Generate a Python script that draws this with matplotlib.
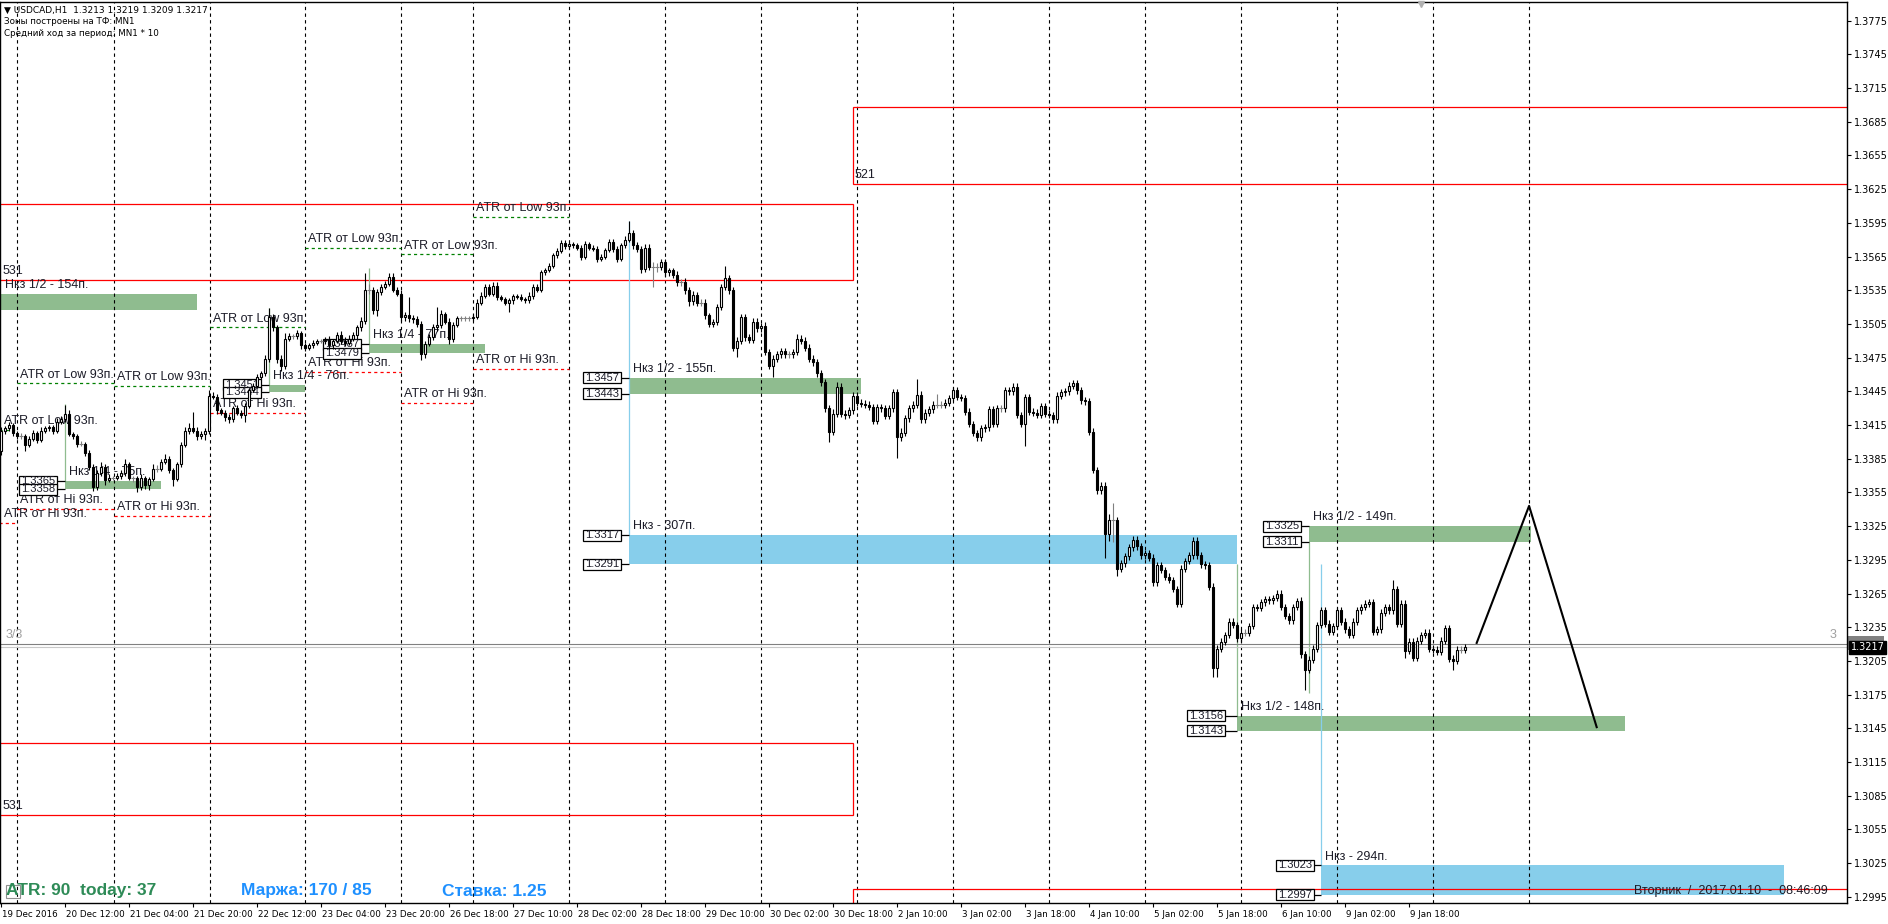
import numpy as np
import matplotlib
matplotlib.use("Agg")
import matplotlib.pyplot as plt
import matplotlib.transforms as mtransforms
from matplotlib.patches import Rectangle

# ---------------- data (prices in pips above 1.0000) ----------------
TICK_LABELS = ["19 Dec 2016", "20 Dec 12:00", "21 Dec 04:00", "21 Dec 20:00", "22 Dec 12:00",
               "23 Dec 04:00", "23 Dec 20:00", "26 Dec 18:00", "27 Dec 10:00", "28 Dec 02:00",
               "28 Dec 18:00", "29 Dec 10:00", "30 Dec 02:00", "30 Dec 18:00", "2 Jan 10:00",
               "3 Jan 02:00", "3 Jan 18:00", "4 Jan 10:00", "5 Jan 02:00", "5 Jan 18:00",
               "6 Jan 10:00", "9 Jan 02:00", "9 Jan 18:00"]
SEPARATORS = [4.08, 28.2, 52.2, 76.1, 100.1, 118.1, 142.1, 166.1, 190.1, 214.1, 238.1,
              262.1, 286.1, 310.1, 334.1, 358.1, 382.1]
PRICE_TICKS = list(range(2995, 3776, 30))

FIRST_OPEN = 3392
CLOSE = [
    3410, 3412, 3415, 3408, 3405, 3405, 3397, 3403, 3408, 3402, 3410, 3412, 3413, 3410, 3418, 3420, 3425, 3407, 3405, 3398, 3398, 3390, 3378, 3360,
    3372, 3378, 3366, 3368, 3368, 3370, 3372, 3380, 3368, 3368, 3360, 3368, 3362, 3367, 3376, 3376, 3382, 3385, 3375, 3367, 3380, 3397, 3410, 3412,
    3410, 3405, 3407, 3410, 3441, 3440, 3428, 3426, 3422, 3420, 3430, 3426, 3424, 3432, 3446, 3450, 3458, 3461, 3474, 3511, 3502, 3474, 3468, 3492,
    3494, 3494, 3497, 3486, 3484, 3486, 3488, 3490, 3490, 3491, 3486, 3490, 3495, 3490, 3488, 3492, 3495, 3502, 3508, 3535, 3535, 3517, 3533, 3538,
    3541, 3547, 3535, 3532, 3511, 3513, 3510, 3509, 3505, 3478, 3487, 3493, 3502, 3504, 3514, 3507, 3492, 3504, 3510, 3510, 3510, 3510, 3511, 3524,
    3530, 3538, 3532, 3539, 3529, 3527, 3524, 3526, 3530, 3529, 3527, 3526, 3530, 3538, 3535, 3551, 3553, 3557, 3566, 3570, 3577, 3574, 3576, 3575,
    3573, 3565, 3576, 3573, 3572, 3563, 3565, 3571, 3578, 3572, 3563, 3575, 3580, 3586, 3575, 3572, 3554, 3573, 3556, 3556, 3556, 3560, 3551, 3553,
    3549, 3542, 3542, 3535, 3525, 3531, 3524, 3524, 3513, 3505, 3507, 3520, 3538, 3546, 3535, 3484, 3490, 3511, 3493, 3491, 3507, 3501, 3503, 3480,
    3468, 3474, 3478, 3481, 3478, 3478, 3480, 3492, 3490, 3484, 3474, 3471, 3461, 3453, 3430, 3409, 3425, 3449, 3425, 3424, 3428, 3441, 3435, 3434,
    3433, 3431, 3419, 3431, 3430, 3423, 3430, 3444, 3404, 3408, 3421, 3430, 3433, 3442, 3420, 3426, 3429, 3433, 3433, 3433, 3435, 3439, 3446, 3440,
    3439, 3427, 3416, 3408, 3404, 3412, 3413, 3429, 3416, 3430, 3430, 3446, 3445, 3449, 3424, 3416, 3440, 3427, 3426, 3424, 3432, 3425, 3424, 3420,
    3441, 3444, 3445, 3450, 3452, 3446, 3437, 3436, 3409, 3375, 3357, 3361, 3318, 3330, 3330, 3287, 3292, 3298, 3306, 3313, 3307, 3299, 3301, 3297,
    3275, 3290, 3286, 3280, 3277, 3269, 3256, 3287, 3294, 3299, 3312, 3299, 3291, 3290, 3271, 3199, 3216, 3222, 3228, 3240, 3237, 3225, 3230, 3230,
    3236, 3253, 3252, 3257, 3260, 3259, 3261, 3265, 3253, 3245, 3241, 3253, 3258, 3211, 3197, 3206, 3216, 3237, 3250, 3238, 3231, 3236, 3250, 3240,
    3233, 3228, 3240, 3250, 3253, 3256, 3257, 3231, 3233, 3248, 3253, 3250, 3269, 3238, 3256, 3214, 3222, 3208, 3223, 3228, 3230, 3216, 3215, 3213,
    3223, 3234, 3207, 3205, 3215, 3215, 3217,
]
WICK_UP = [
    3, 2, 3, 2, 2, 3, 2, 2, 3, 2, 3, 2, 2, 2, 3, 3, 8, 3, 2, 2, 3, 2, 3, 2,
    3, 4, 2, 3, 2, 2, 3, 5, 2, 2, 2, 3, 2, 2, 4, 3, 3, 4, 2, 2, 2, 3, 3, 5,
    15, 3, 3, 2, 5, 3, 3, 2, 2, 3, 2, 3, 2, 3, 2, 2, 2, 2, 3, 8, 3, 2, 3, 5,
    3, 2, 3, 2, 2, 2, 3, 2, 2, 2, 3, 2, 3, 4, 3, 3, 3, 2, 3, 15, 6, 3, 3, 3,
    2, 3, 3, 3, 3, 3, 16, 3, 3, 3, 3, 3, 3, 16, 3, 2, 3, 3, 2, 2, 2, 2, 3, 3,
    3, 3, 3, 3, 3, 2, 2, 2, 2, 2, 3, 2, 3, 3, 3, 2, 2, 2, 2, 3, 3, 3, 2, 2,
    2, 2, 3, 2, 2, 2, 2, 2, 3, 3, 2, 2, 3, 11, 3, 3, 2, 3, 3, 4, 3, 3, 3, 2,
    2, 3, 3, 4, 3, 3, 2, 3, 3, 2, 2, 3, 3, 11, 3, 3, 3, 3, 3, 3, 3, 3, 3, 4,
    3, 3, 3, 3, 3, 3, 3, 4, 3, 3, 3, 3, 3, 3, 3, 3, 4, 4, 3, 3, 3, 3, 3, 3,
    3, 3, 3, 3, 3, 3, 3, 3, 3, 4, 3, 3, 3, 14, 3, 3, 3, 3, 10, 3, 3, 3, 3, 3,
    3, 3, 3, 3, 3, 3, 3, 3, 3, 3, 3, 3, 3, 3, 3, 3, 3, 3, 3, 3, 3, 3, 3, 3,
    3, 3, 3, 3, 3, 3, 3, 3, 3, 3, 3, 3, 3, 6, 16, 3, 3, 3, 3, 3, 3, 3, 3, 3,
    3, 3, 3, 3, 3, 3, 3, 3, 3, 3, 3, 3, 3, 3, 3, 3, 3, 3, 3, 3, 3, 3, 3, 3,
    3, 3, 3, 3, 3, 3, 3, 3, 3, 3, 3, 3, 3, 4, 3, 3, 3, 3, 3, 3, 3, 3, 3, 3,
    3, 3, 3, 3, 3, 3, 3, 3, 3, 3, 3, 3, 8, 3, 3, 3, 3, 3, 3, 3, 3, 3, 3, 3,
    3, 3, 3, 3, 3, 3, 3,
]
WICK_DN = [
    4, 3, 2, 3, 2, 2, 5, 2, 2, 3, 2, 2, 2, 3, 2, 2, 2, 2, 2, 3, 2, 3, 3, 4,
    3, 2, 4, 2, 2, 2, 3, 2, 2, 4, 5, 3, 4, 5, 2, 3, 2, 2, 3, 6, 2, 2, 2, 3,
    2, 3, 2, 5, 3, 2, 3, 2, 3, 3, 2, 2, 3, 6, 2, 2, 2, 2, 2, 3, 3, 4, 5, 3,
    2, 2, 2, 3, 3, 2, 2, 2, 2, 3, 3, 3, 2, 3, 3, 2, 2, 3, 3, 3, 3, 3, 5, 2,
    2, 2, 2, 2, 3, 3, 3, 3, 3, 5, 3, 2, 2, 3, 3, 2, 5, 3, 2, 2, 2, 2, 2, 2,
    2, 2, 2, 2, 3, 2, 2, 8, 3, 2, 2, 2, 2, 3, 2, 2, 2, 2, 2, 2, 2, 2, 2, 2,
    2, 3, 2, 2, 2, 3, 2, 2, 2, 3, 3, 2, 2, 2, 3, 3, 4, 3, 3, 18, 5, 3, 4, 3,
    3, 3, 3, 3, 4, 3, 3, 3, 4, 3, 3, 3, 3, 3, 3, 3, 8, 3, 3, 3, 3, 3, 3, 3,
    3, 10, 3, 3, 3, 3, 3, 3, 3, 3, 3, 3, 3, 3, 3, 9, 3, 3, 3, 4, 3, 3, 3, 3,
    3, 3, 3, 3, 3, 3, 3, 3, 18, 3, 3, 3, 3, 3, 3, 3, 3, 3, 3, 3, 3, 3, 3, 3,
    3, 3, 3, 3, 3, 3, 3, 3, 3, 3, 3, 3, 3, 3, 3, 3, 20, 3, 3, 3, 3, 3, 3, 3,
    3, 3, 3, 3, 3, 3, 3, 3, 3, 3, 3, 3, 21, 6, 19, 6, 3, 3, 3, 3, 3, 3, 3, 3,
    3, 3, 3, 3, 3, 3, 3, 3, 3, 3, 3, 3, 3, 3, 3, 8, 8, 3, 3, 3, 3, 3, 3, 3,
    3, 3, 3, 3, 3, 3, 3, 3, 3, 3, 3, 3, 3, 3, 18, 3, 3, 3, 3, 3, 3, 3, 3, 3,
    3, 3, 3, 3, 3, 3, 3, 3, 3, 3, 3, 3, 3, 3, 3, 6, 3, 3, 3, 3, 3, 3, 3, 3,
    3, 3, 3, 8, 3, 3, 3,
]

# zones: (bar_from, bar_to, low, high, label)
GREEN_ZONES = [(-1, 48.9, 3517, 3532, "Нкз 1/2 - 154п."),
               (16, 40, 3358, 3365, "Нкз 1/4 - 75п."),
               (67, 76, 3444, 3451, "Нкз 1/4 - 76п."),
               (92, 121, 3479, 3487, "Нкз 1/4 - 77п."),
               (157, 215, 3443, 3457, "Нкз 1/2 - 155п."),
               (327, 382.5, 3311, 3325, "Нкз 1/2 - 149п."),
               (309, 406, 3143, 3156, "Нкз 1/2 - 148п.")]
BLUE_ZONES = [(157, 309, 3291, 3317, "Нкз - 307п."),
              (330, 445.8, 2997, 3023, "Нкз - 294п.")]
# origin lines: (bar, from, to, colour)
ORIGIN_LINES = [(16, 3434, 3365, "#8fbc8f"), (67, 3519, 3451, "#8fbc8f"),
                (92, 3555, 3487, "#8fbc8f"), (157, 3597, 3317, "#87ceeb"),
                (327, 3311, 3176, "#8fbc8f"), (309, 3291, 3156, "#8fbc8f"),
                (330, 3291, 3023, "#87ceeb")]
# price boxes: (bar_left, value, connector_to)
BOXES = [(4.5, 3365, 16), (4.5, 3358, 16), (55.5, 3451, 67), (55.5, 3444, 67),
         (80.5, 3487, 92), (80.5, 3479, 92), (145.5, 3457, 157), (145.5, 3443, 157),
         (145.5, 3317, 157), (145.5, 3291, 157), (315.5, 3325, 327), (315.5, 3311, 327),
         (296.5, 3156, 309), (296.5, 3143, 309), (318.8, 3023, 330), (318.8, 2997, 330)]
# monthly red zones: (bar_from, bar_to, low, high, label)
RED_ZONES = [(-5, 213, 3544, 3612, "531"), (213, 470, 3630, 3698, "521"),
             (-5, 213, 3068, 3132, "531"), (213, 470, 2960, 3002, "")]
# daily ATR lines: (day_from, day_to, low_line, hi_line)
ATR_DAYS = [(-1, 4.08, 3411, 3328), (4.08, 28.2, 3452, 3340), (28.2, 52.2, 3450, 3334),
            (52.2, 76.1, 3502, 3426), (76.1, 100.1, 3573, 3462), (100.1, 118.1, 3567, 3435),
            (118.1, 142.1, 3600, 3465)]
PROJ_X = [368.9, 382, 398.9]
PROJ_Y = [3221, 3343, 3146]
BID, ASK = 3217, 3220


def p(v):
    return 1.0 + v / 10000.0


ARIAL = ["Liberation Sans", "DejaVu Sans"]
TXT = "#1c1c28"

fig = plt.figure(figsize=(18.88, 9.24), dpi=100)
ax = fig.add_axes([0.0, 21.3 / 924, 1846.7 / 1888, 900.7 / 924])
ax.set_xlim(-0.25, 461.4)
ax.set_ylim(1.29897, 1.379165)

# red monthly zones
for x0, x1, lo, hi, lab in RED_ZONES:
    ax.add_patch(Rectangle((x0, p(lo)), x1 - x0, p(hi) - p(lo), fill=False,
                           ec="red", lw=0.9, zorder=2))
    if lab:
        ax.annotate(lab, (max(x0, 0), p(lo)), xytext=(1, 2), textcoords="offset points",
                    fontsize=9, family=ARIAL, color=TXT, va="bottom", ha="left", zorder=4)

# zones
for x0, x1, lo, hi, lab in GREEN_ZONES:
    ax.add_patch(Rectangle((x0, p(lo)), x1 - x0, p(hi) - p(lo), fc="#8fbc8f", ec="none", zorder=1))
    ax.annotate(lab, (max(x0, 0), p(hi)), xytext=(3, 2), textcoords="offset points",
                fontsize=9, family=ARIAL, color=TXT, va="bottom", ha="left", zorder=4)
for x0, x1, lo, hi, lab in BLUE_ZONES:
    ax.add_patch(Rectangle((x0, p(lo)), x1 - x0, p(hi) - p(lo), fc="#87ceeb", ec="none", zorder=1))
    ax.annotate(lab, (x0, p(hi)), xytext=(3, 2), textcoords="offset points",
                fontsize=9, family=ARIAL, color=TXT, va="bottom", ha="left", zorder=4)
for x, a, b, c in ORIGIN_LINES:
    ax.vlines(x, p(b), p(a), color=c, lw=0.9, zorder=2)

# ATR lines
for d0, d1, lo_line, hi_line in ATR_DAYS:
    ax.hlines(p(lo_line), d0, d1, color="#008000", lw=0.9, linestyles=(0, (2.5, 2.5)), zorder=2)
    ax.hlines(p(hi_line), d0, d1, color="red", lw=0.9, linestyles=(0, (2.5, 2.5)), zorder=2)
    ax.annotate("ATR от Low 93п.", (max(d0, 0), p(lo_line)), xytext=(2, 2),
                textcoords="offset points", fontsize=9, family=ARIAL, color=TXT,
                va="bottom", zorder=4)
    ax.annotate("ATR от Hi 93п.", (max(d0, 0), p(hi_line)), xytext=(2, 2),
                textcoords="offset points", fontsize=9, family=ARIAL, color=TXT,
                va="bottom", zorder=4)

# day separators
for s in SEPARATORS:
    ax.axvline(s, color="black", lw=0.8, ls=(0, (3, 3)), zorder=1.5)

# price boxes
bh = 11 / 1.12308 / 10000
for xl, v, to in BOXES:
    ax.add_patch(Rectangle((xl, p(v) - bh / 2), 9.5, bh, fc="white", ec="black", lw=0.9, zorder=6))
    ax.text(xl + 4.75, p(v), f"{p(v):.4f}", fontsize=8, family=ARIAL, color=TXT,
            ha="center", va="center", zorder=7)
    ax.hlines(p(v), xl + 9.5, to, color="black", lw=0.9, zorder=6)

# current price lines
ax.axhline(p(ASK), color="#808080", lw=0.8, zorder=2)
ax.axhline(p(BID), color="#c8c8c8", lw=0.8, zorder=2)
ax.annotate("3/3", (0, p(ASK)), xytext=(3, 2), textcoords="offset points", fontsize=9,
            family=ARIAL, color="#a0a0a0", va="bottom")
ax.annotate("3", (461.4, p(ASK)), xytext=(-12, 2), textcoords="offset points", fontsize=9,
            family=ARIAL, color="#a0a0a0", va="bottom")

# candles
close = np.array(CLOSE, dtype=float)
opn = np.concatenate([[FIRST_OPEN], close[:-1]])
hi = np.maximum(opn, close) + np.array(WICK_UP)
lo = np.minimum(opn, close) - np.array(WICK_DN)
xs = np.arange(len(close))
up = close > opn
dn = close < opn
dj = close == opn
ax.vlines(xs[~dj], p(lo[~dj]), p(hi[~dj]), color="black", lw=0.8, zorder=8)
ax.vlines(xs[dj], p(lo[dj]), p(hi[dj]), color="#808080", lw=0.8, zorder=8)
ax.hlines(p(close[dj]), xs[dj] - 0.4, xs[dj] + 0.4, color="#808080", lw=0.8, zorder=8)
ax.bar(xs[up], p(close[up]) - p(opn[up]), bottom=p(opn[up]), width=0.7,
       color="white", edgecolor="black", lw=0.8, zorder=9)
ax.bar(xs[dn], p(opn[dn]) - p(close[dn]), bottom=p(close[dn]), width=0.7,
       color="black", edgecolor="black", lw=0.8, zorder=9)

# projection
ax.plot(PROJ_X, [p(v) for v in PROJ_Y], color="black", lw=1.5, zorder=10)

# shift marker at top
ax.plot([355], [1.3790], marker="v", ms=5, color="#b0b0b0", clip_on=False, zorder=3)

# axes styling
for sp in ax.spines.values():
    sp.set_linewidth(1.0)
    sp.set_color("black")
ax.yaxis.tick_right()
ax.set_yticks([p(v) for v in PRICE_TICKS])
ax.set_yticklabels([f"{p(v):.4f}" for v in PRICE_TICKS], fontsize=7, family="DejaVu Sans")
ax.tick_params(axis="y", direction="out", length=3, width=0.8, pad=2)
ax.set_xticks([16 * k for k in range(len(TICK_LABELS))])
ax.set_xticklabels(TICK_LABELS, fontsize=6.3, family="DejaVu Sans")
ax.tick_params(axis="x", direction="out", length=3, width=0.8, pad=2)
off = mtransforms.ScaledTranslation(1 / 100, 0, fig.dpi_scale_trans)
for lab in ax.get_xticklabels():
    lab.set_horizontalalignment("left")
    lab.set_transform(lab.get_transform() + off)

# price tags on axis (ask tag hidden behind bid tag, only its grey edge shows)
fig.patches.append(Rectangle((1848 / 1888, 1 - 650 / 924), 36 / 1888, 14 / 924,
                             fc="#808080", ec="none", transform=fig.transFigure, figure=fig,
                             zorder=-1))
ax.annotate(f"{p(BID):.4f}", (1.0, p(BID)), xycoords=("axes fraction", "data"),
            xytext=(3, 0), textcoords="offset points", fontsize=7, color="white",
            family="DejaVu Sans", va="center", ha="left",
            bbox=dict(boxstyle="square,pad=0.15", fc="black", ec="black"),
            annotation_clip=False, zorder=20)

# header texts
fig.text(4 / 1888, 1 - 10 / 924, "▼ USDCAD,H1  1.3213 1.3219 1.3209 1.3217", fontsize=6.5,
         family="DejaVu Sans", va="center")
fig.text(4 / 1888, 1 - 22 / 924, "Зоны построены на ТФ: MN1", fontsize=6.3,
         family="DejaVu Sans", va="center")
fig.text(4 / 1888, 1 - 33 / 924, "Средний ход за период: MN1 * 10", fontsize=6.3,
         family="DejaVu Sans", va="center")

# bottom info
fig.patches.append(Rectangle((6 / 1888, 1 - 898 / 924), 14 / 1888, 13 / 924, fill=False,
                             ec="#909090", lw=0.8, transform=fig.transFigure, figure=fig))
fig.text(6 / 1888, 1 - 891 / 924, "ATR: 90  today: 37", fontsize=12.5, weight="bold",
         family=ARIAL, color="#2e8b57", va="center")
fig.text(241 / 1888, 1 - 891 / 924, "Маржа: 170 / 85", fontsize=12.5, weight="bold",
         family=ARIAL, color="#1e90ff", va="center")
fig.text(442 / 1888, 1 - 891 / 924, "Ставка: 1.25", fontsize=12.5, weight="bold",
         family=ARIAL, color="#1e90ff", va="center")
fig.text(1828 / 1888, 1 - 891 / 924, "Вторник  /  2017.01.10  -  08:46:09", fontsize=9,
         family=ARIAL, color=TXT, va="center", ha="right")

fig.savefig("out.png", dpi=100, facecolor="white")
